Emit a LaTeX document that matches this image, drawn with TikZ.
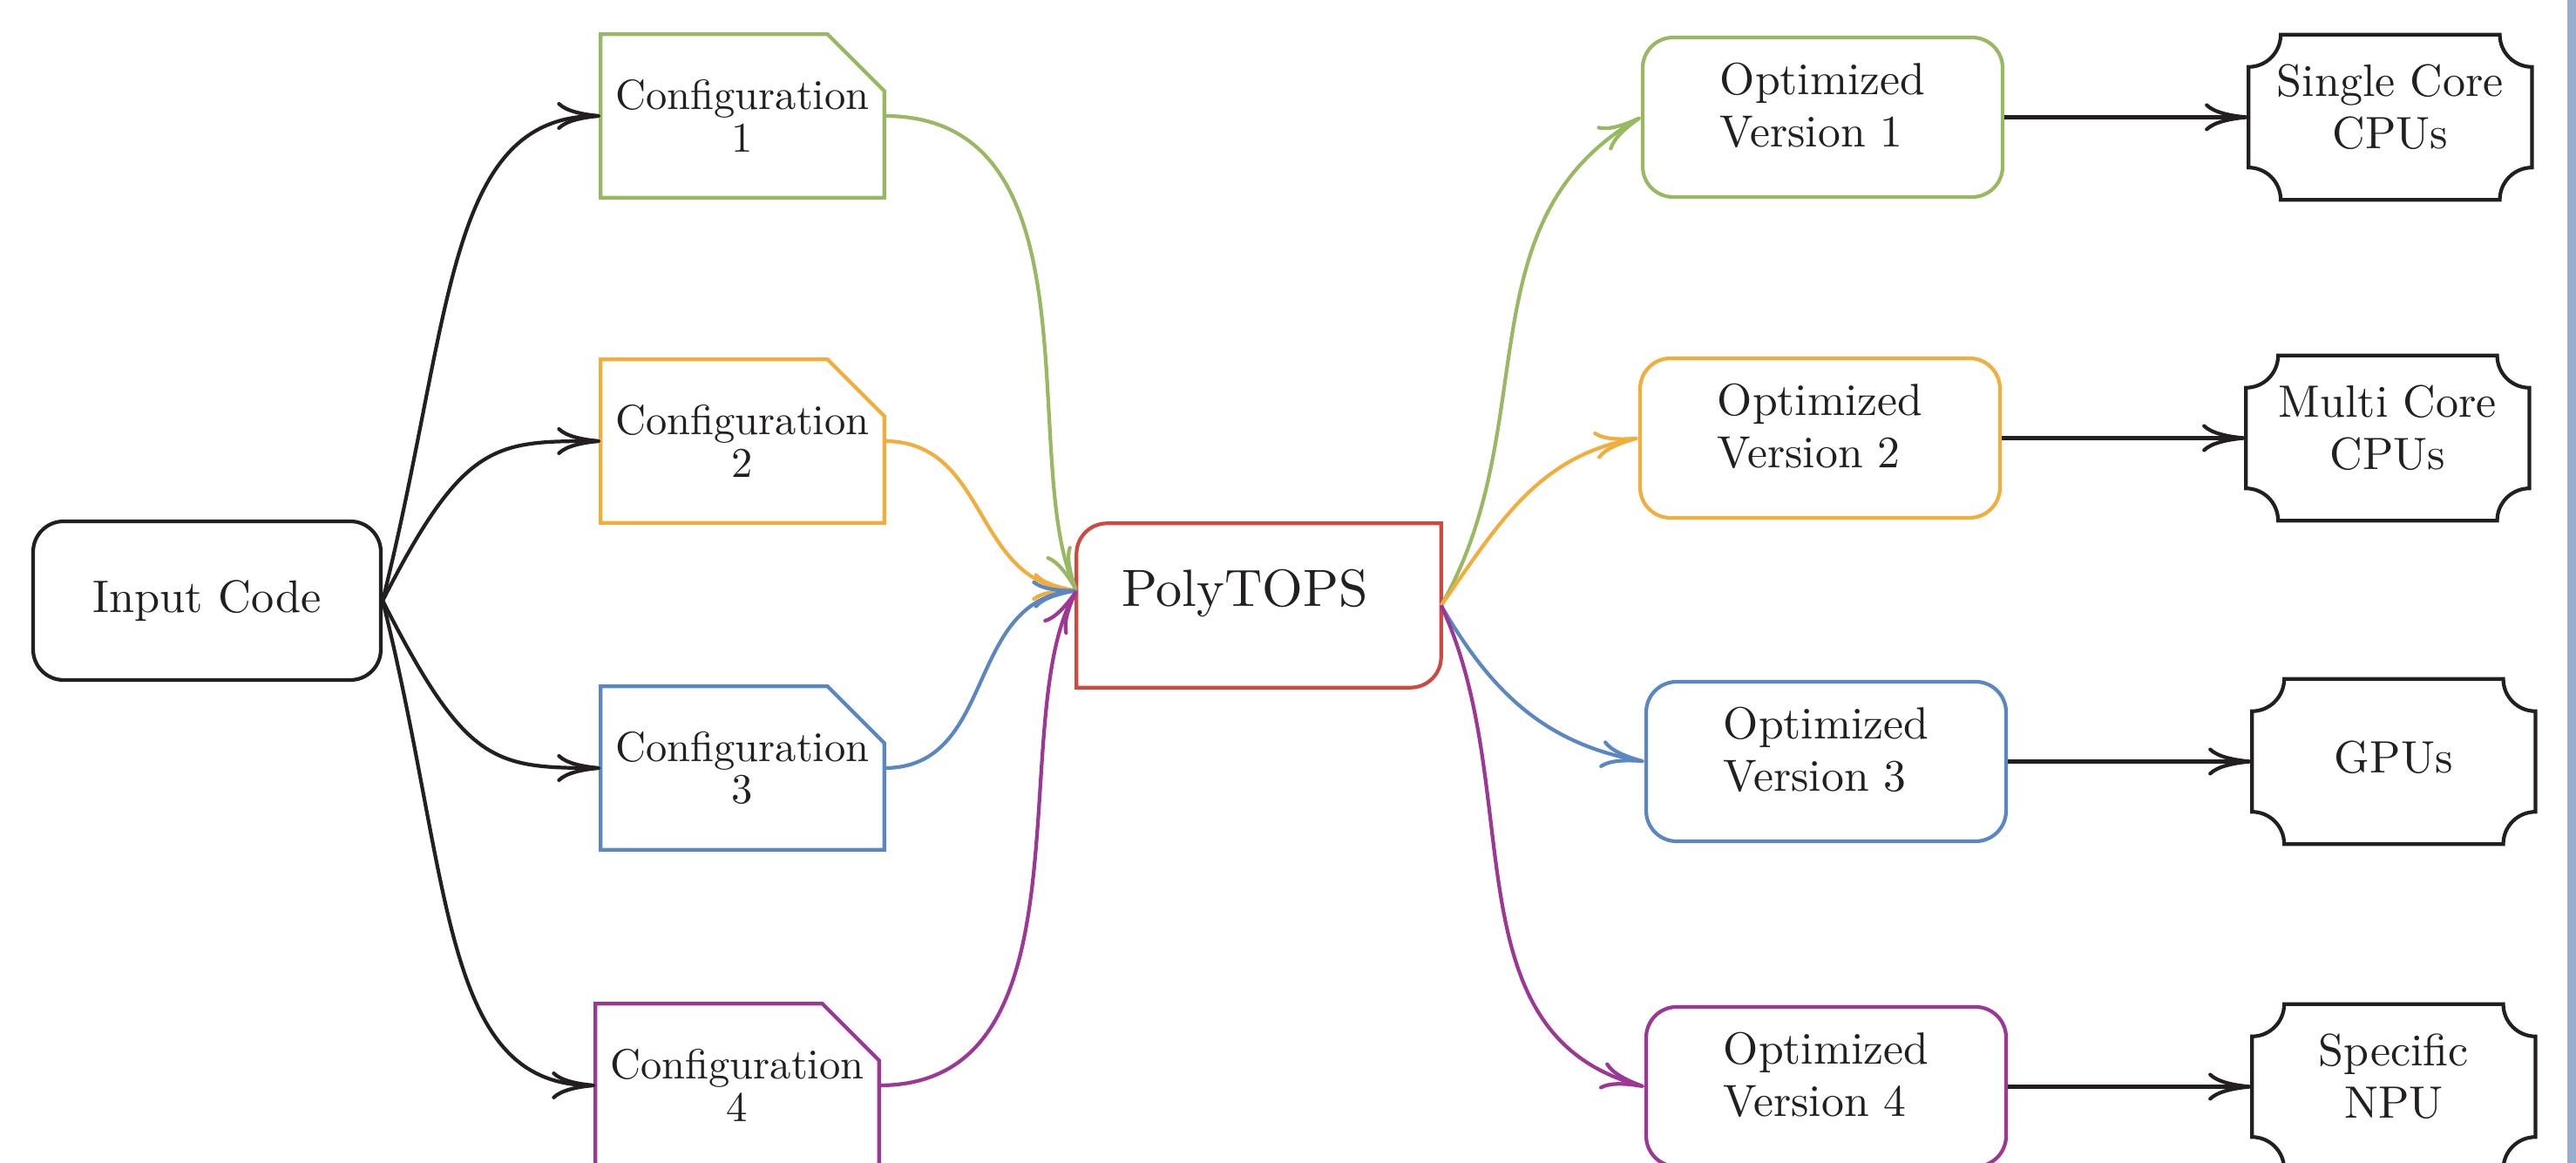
\documentclass[tikz,border=0pt]{standalone}
\usepackage{fontspec}
\setmainfont{lmroman10-regular.otf}
\usetikzlibrary{arrows.meta, positioning}

\definecolor{cfggreen}{RGB}{151,185,98}
\definecolor{cfgorange}{RGB}{242,174,61}
\definecolor{cfgblue}{RGB}{90,135,193}
\definecolor{cfgpurple}{RGB}{156,55,150}
\definecolor{polyred}{RGB}{208,73,64}
\definecolor{ink}{RGB}{35,31,32}
\definecolor{sidebar}{RGB}{151,174,208}

\tikzset{
  inbox/.style={draw=ink, line width=1.2pt, rounded corners=0.35cm, text=ink,
    minimum width=3.99cm, minimum height=1.82cm, font=\fontsize{14.9}{17}\selectfont},
  cfgbox/.style={text=ink, minimum width=3.24cm, minimum height=1.86cm, align=center,
    font=\fontsize{13.8}{13.9}\selectfont},
  polybox/.style={text=ink, minimum width=4.17cm, minimum height=1.87cm,
    text depth=0.4cm, font=\fontsize{17.1}{20}\selectfont},
  optbox/.style={draw, line width=1.2pt, rounded corners=0.35cm, text=ink,
    minimum width=4.13cm, minimum height=1.83cm, align=left, text depth=8pt,
    font=\fontsize{14.7}{17}\selectfont},
  hwbox/.style={text=ink, minimum width=3.24cm, minimum height=1.88cm, align=center,
    text depth=7pt, font=\fontsize{14.8}{17}\selectfont},
  link/.style={line width=1.2pt, ink,
    -{Computer Modern Rightarrow[length=0.5cm, width=0.32cm]}},
}

\begin{document}
\begin{tikzpicture}
	\useasboundingbox (0,0) rectangle (29.56,13.34);
	\fill[sidebar] (29.46,0) rectangle (29.56,13.34);

	% source and configurations
	\node[inbox] (in) at (2.375,6.45) {Input Code};
	\node[cfgbox] (cfg1) at (8.52,12.01) {Configuration\\1};
	\node[cfgbox] (cfg2) at (8.52,8.28) {Configuration\\2};
	\node[cfgbox] (cfg3) at (8.52,4.53) {Configuration\\3};
	\node[cfgbox] (cfg4) at (8.46,0.89) {Configuration\\4};

	% folders with a cut corner
	\foreach \n/\c in {cfg1/cfggreen, cfg2/cfgorange, cfg3/cfgblue, cfg4/cfgpurple}
		\draw[\c, line width=1.2pt] (\n.south west) -- (\n.north west)
		-- ([xshift=-0.65cm]\n.north east) -- ([yshift=-0.65cm]\n.north east)
		-- (\n.south east) -- cycle;

	% the tool
	\node[polybox] (poly) at (14.445,6.395) {PolyTOPS\kern0.32cm};
	\draw[polyred, line width=1.2pt] (poly.south west) -- ([yshift=-0.35cm]poly.north west)
		arc[start angle=180, end angle=90, radius=0.35cm] -- (poly.north east)
		-- ([yshift=0.35cm]poly.south east)
		arc[start angle=0, end angle=-90, radius=0.35cm] -- cycle;
	\coordinate (polyin) at ([yshift=0.17cm]poly.west);

	% optimized versions and hardware
	\node[optbox, draw=cfggreen] (opt1) at (20.915,11.995) {Optimized\\Version 1};
	\node[optbox, draw=cfgorange] (opt2) at (20.885,8.315) {Optimized\\Version 2};
	\node[optbox, draw=cfgblue] (opt3) at (20.955,4.605) {Optimized\\Version 3};
	\node[optbox, draw=cfgpurple] (opt4) at (20.955,0.875) {Optimized\\Version 4};

	\node[hwbox, right=2.8cm of opt1] (hw1) {Single Core\\CPUs};
	\node[hwbox, right=2.8cm of opt2] (hw2) {Multi Core\\CPUs};
	\node[hwbox, right=2.8cm of opt3, text depth=3pt] (hw3) {GPUs};
	\node[hwbox, right=2.8cm of opt4] (hw4) {Specific\\NPU};

	% frames with hollow corners
	\foreach \n in {hw1,hw2,hw3,hw4}
		\draw[ink, line width=1.2pt]
		([xshift=0.37cm]\n.north west) -- ([xshift=-0.37cm]\n.north east)
		arc[start angle=180, end angle=270, radius=0.37cm]
		-- ([yshift=0.37cm]\n.south east)
		arc[start angle=90, end angle=180, radius=0.37cm]
		-- ([xshift=0.37cm]\n.south west)
		arc[start angle=0, end angle=90, radius=0.37cm]
		-- ([yshift=-0.37cm]\n.north west)
		arc[start angle=270, end angle=360, radius=0.37cm] -- cycle;

	\path[link]
	(in.east) edge[out=76, in=180, out looseness=1.4, in looseness=0.75] (cfg1.west)
	(in.east) edge[out=63, in=180, out looseness=1.7] (cfg2.west)
	(in.east) edge[out=-63, in=180, out looseness=1.7] (cfg3.west)
	(in.east) edge[out=-76, in=180, out looseness=1.4, in looseness=0.75] (cfg4.west)
	(cfg1.east) edge[cfggreen, out=0, in=115, out looseness=1.1, in looseness=0.7] (polyin)
	(cfg2.east) edge[cfgorange, out=0, in=175, looseness=1.1] (polyin)
	(cfg3.east) edge[cfgblue, out=0, in=185, looseness=1.1] (polyin)
	(cfg4.east) edge[cfgpurple, out=0, in=240, out looseness=1.05, in looseness=0.7] (polyin)
	(poly.east) edge[cfggreen, out=60, in=210] (opt1.west)
	(poly.east) edge[cfgorange, out=55, in=190] (opt2.west)
	(poly.east) edge[cfgblue, out=-60, in=170] (opt3.west)
	(poly.east) edge[cfgpurple, out=-65, in=165] (opt4.west)
	(opt1.east) edge (hw1.west)
	(opt2.east) edge (hw2.west)
	(opt3.east) edge (hw3.west)
	(opt4.east) edge (hw4.west);
\end{tikzpicture}
\end{document}
